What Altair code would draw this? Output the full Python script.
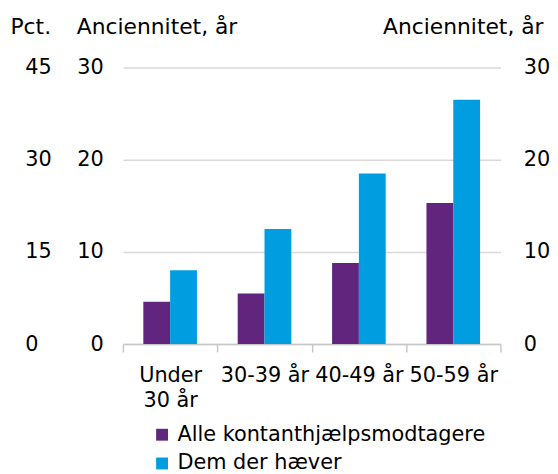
import altair as alt
import pandas as pd

categories = ["Under 30 år", "30-39 år", "40-49 år", "50-59 år"]
series = ["Alle kontanthjælpsmodtagere", "Dem der hæver"]
alle = [4.6, 5.5, 8.8, 15.3]
dem = [8.0, 12.5, 18.5, 26.5]
colors = ["#61257D", "#009EE0"]

rows = []
for c, a, d in zip(categories, alle, dem):
    rows.append({"Aldersgruppe": c, "Serie": series[0], "Værdi": a})
    rows.append({"Aldersgruppe": c, "Serie": series[1], "Værdi": d})
df = pd.DataFrame(rows)

FONT = "DejaVu Sans"
FS = 21
GRID = "#D9D9D9"

base = alt.Chart(df)

bars = base.mark_bar().encode(
    x=alt.X(
        "Aldersgruppe:N",
        sort=categories,
        scale=alt.Scale(paddingInner=0, paddingOuter=0),
        axis=alt.Axis(
            title=None,
            labelAngle=0,
            tickBand="extent",
            tickSize=8,
            tickWidth=1.5,
            tickColor="#C8C8C8",
            domainColor="#C8C8C8",
            domainWidth=1.5,
            labelPadding=12.5,
            labelLineHeight=26,
            labelBaseline="top",
            labelExpr="datum.value == 'Under 30 år' ? ['Under', '30 år'] : datum.label",
        ),
    ),
    xOffset=alt.XOffset("Serie:N", sort=series, scale=alt.Scale(paddingInner=0, paddingOuter=0.76)),
    y=alt.Y(
        "Værdi:Q",
        scale=alt.Scale(domain=[0, 30]),
        axis=alt.Axis(
            orient="left",
            values=[0, 10, 20, 30],
            grid=True,
            gridColor=GRID,
            gridWidth=1.5,
            ticks=False,
            tickSize=0,
            domain=False,
            labelPadding=20,
            title="Anciennitet, år",
            titleAngle=0,
            titleAlign="left",
            titleBaseline="alphabetic",
            titleX=-47,
            titleY=-34,
        ),
    ),
    color=alt.Color(
        "Serie:N",
        sort=series,
        scale=alt.Scale(domain=series, range=colors),
        legend=alt.Legend(
            title=None,
            orient="none",
            legendX=29,
            legendY=360,
            direction="vertical",
            symbolType="square",
            symbolSize=144,
            symbolStrokeWidth=0,
            labelOffset=5,
            labelLimit=0,
            rowPadding=7,
        ),
    ),
)

right = base.mark_point(opacity=0).encode(
    y=alt.Y(
        "Værdi:Q",
        scale=alt.Scale(domain=[0, 30]),
        axis=alt.Axis(
            orient="right",
            values=[0, 10, 20, 30],
            grid=False,
            ticks=False,
            tickSize=0,
            domain=False,
            labelPadding=23,
            title="Anciennitet, år",
            titleAngle=0,
            titleAlign="right",
            titleBaseline="alphabetic",
            titleX=43,
            titleY=-34,
        ),
    )
)

pct = base.mark_point(opacity=0).encode(
    y=alt.Y(
        "Værdi:Q",
        scale=alt.Scale(domain=[0, 45]),
        axis=alt.Axis(
            orient="left",
            values=[0, 15, 30, 45],
            grid=False,
            ticks=False,
            tickSize=0,
            domain=False,
            labelAlign="left",
            labelPadding=99,
            title="Pct.",
            titleAngle=0,
            titleAlign="left",
            titleBaseline="alphabetic",
            titleX=-114,
            titleY=-34,
        ),
    )
)

chart = (
    alt.layer(bars, right, pct)
    .resolve_scale(y="independent")
    .properties(
        width=381,
        height=279,
        autosize=alt.AutoSizeParams(type="none"),
        padding={"left": 116, "top": 58, "right": 50, "bottom": 132},
    )
    .configure_view(stroke=None)
    .configure_axis(
        labelFont=FONT,
        labelFontSize=FS,
        labelColor="#000000",
        titleFont=FONT,
        titleFontSize=22,
        titleFontWeight="normal",
        titleColor="#000000",
    )
    .configure_legend(labelFont=FONT, labelFontSize=FS, labelColor="#000000")
)

chart.save("out.html", embed_options={"renderer": "svg", "actions": False})
